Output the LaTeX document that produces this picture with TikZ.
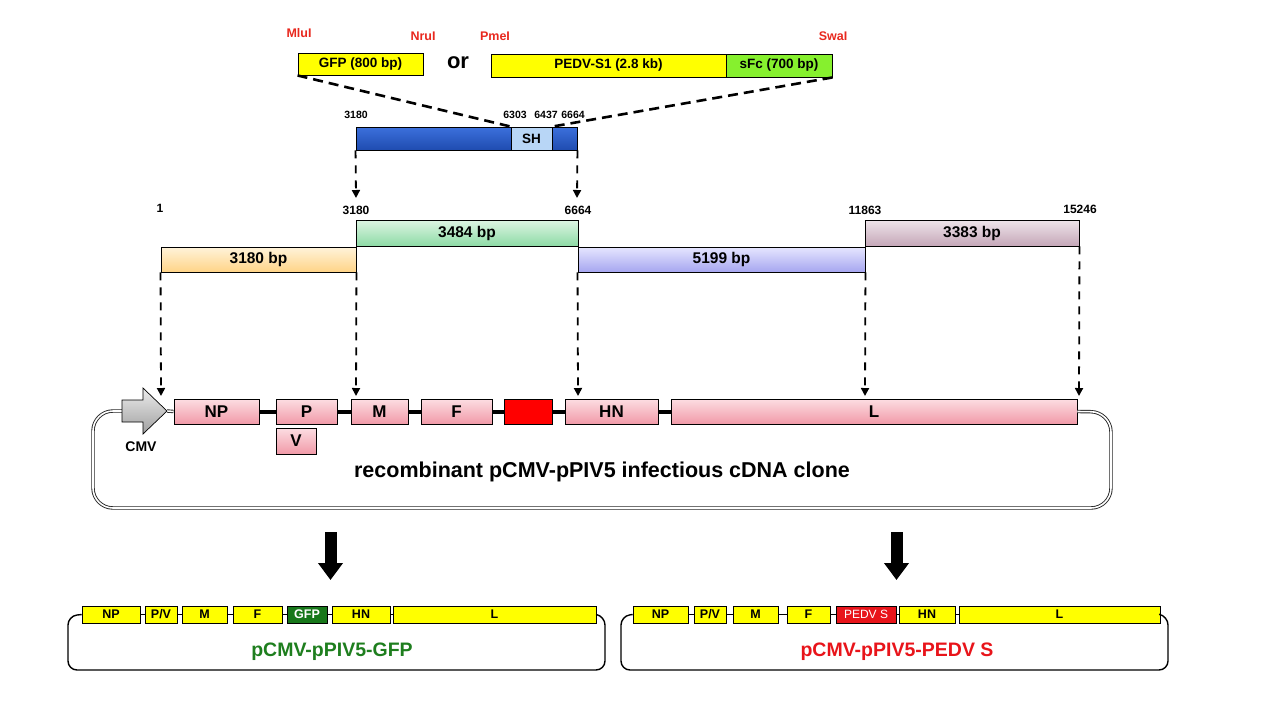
\documentclass[tikz,border=0pt]{standalone}
\usepackage{fontspec}
\setmainfont{Liberation Sans}
\usetikzlibrary{arrows.meta}
\definecolor{gtop}{HTML}{FCDDE2}
\definecolor{gbot}{HTML}{F19AA8}
\definecolor{ortop}{HTML}{FFF3DA}
\definecolor{orbot}{HTML}{FFD487}
\definecolor{grtop}{HTML}{DDF5E3}
\definecolor{grbot}{HTML}{8EDBA6}
\definecolor{latop}{HTML}{E6E6FF}
\definecolor{labot}{HTML}{A6A6F0}
\definecolor{matop}{HTML}{EEE4EA}
\definecolor{mabot}{HTML}{C5A7B8}
\definecolor{bltop}{HTML}{3C70DC}
\definecolor{blbot}{HTML}{1F4CB0}
\definecolor{shcol}{HTML}{B8D6F6}
\definecolor{yel}{HTML}{FFFF00}
\definecolor{lime}{HTML}{86F02E}
\definecolor{dgreen}{HTML}{17771A}
\definecolor{tgreen}{HTML}{1E7E1E}
\definecolor{enzred}{HTML}{E8281E}
\definecolor{pred}{HTML}{E8141A}
\newcommand\mybox[7]{%
  \node[#1, minimum width={(#5-#3)*1pt}, minimum height={(#6-#4)*1pt}] (#2) at ({(#3+#5)/2},{(#4+#6)/2}) {#7};}
\begin{document}
\begin{tikzpicture}[x=1pt,y=-1pt,
  bx/.style={draw=black, line width=0.9pt, inner sep=0pt, anchor=center},
  topbox/.style={bx, fill=yel, font=\fontsize{13.5}{13.5}\selectfont\bfseries},
  midbox/.style={bx, font=\fontsize{15.5}{15.5}\selectfont\bfseries},
  gene/.style={bx, top color=gtop, bottom color=gbot, font=\fontsize{17}{17}\selectfont\bfseries},
  sgene/.style={bx, line width=0.6pt, fill=yel, font=\fontsize{12.5}{12.5}\selectfont\bfseries},
  enz/.style={text=enzred, font=\fontsize{12.5}{12.5}\selectfont\bfseries, inner sep=0pt},
  poslabel/.style={font=\fontsize{10.5}{10.5}\selectfont\bfseries, inner sep=0pt},
  mposlabel/.style={font=\fontsize{12}{12}\selectfont\bfseries, inner sep=0pt},
  bigdash/.style={line width=2.6pt, dash pattern=on 10pt off 6pt},
  ddarrow/.style={line width=1.8pt, dash pattern=on 8pt off 7pt, -{Triangle[width=8pt,length=8pt]}},
  bigarrow/.style={line width=12pt, -{Triangle[width=24pt,length=17pt]}},
  dbl/.style={draw=black!85, double=white, double distance=1.6pt, line width=0.9pt},
  link/.style={line width=1.4pt},
  backbone/.style={line width=4pt}
]
\useasboundingbox (0,0) rectangle (1271,720);

% ---------- top inserts ----------
\node[enz] (mlu) at (299,33) {MluI};
\node[enz] (nru) at (423,36) {NruI};
\node[enz] (pme) at (495,36) {PmeI};
\node[enz] (swa) at (833,36) {SwaI};
\mybox{topbox}{gfp}{298}{53}{423}{75}{GFP (800 bp)}
\node[font=\fontsize{22}{22}\selectfont\bfseries] (or) at (458,63) {or};
\mybox{topbox}{pedv}{491}{54}{726}{77}{PEDV-S1 (2.8 kb)}
\mybox{bx, fill=lime, font=\fontsize{13.5}{13.5}\selectfont\bfseries}{sfc}{726}{54}{832}{77}{sFc (700 bp)}

% ---------- blue fragment ----------
\mybox{bx, top color=bltop, bottom color=blbot}{blue}{356}{127}{577}{150}{}
\mybox{bx, fill=shcol, font=\fontsize{13.5}{13.5}\selectfont\bfseries}{sh}{511}{127}{552}{150}{SH}
\node[poslabel] (p3180a) at (356,115) {3180};
\node[poslabel] (p6303) at (515,115) {6303};
\node[poslabel] (p6437) at (546,115) {6437};
\node[poslabel] (p6664a) at (573,115) {6664};
\draw[bigdash] (gfp.south west) -- (sh.north west);
\draw[bigdash] (sfc.south east) -- (sh.north east);

% ---------- middle fragments ----------
\node[mposlabel] (p1) at (160,208) {1};
\node[mposlabel] (p3180) at (356,210) {3180};
\node[mposlabel] (p6664) at (578,210) {6664};
\node[mposlabel] (p11863) at (865,210) {11863};
\node[mposlabel] (p15246) at (1080,209) {15246};
\draw[ddarrow] (blue.south west) -- (356,198);
\draw[ddarrow] (blue.south east) -- (577,198);
\mybox{midbox, top color=ortop, bottom color=orbot}{f1}{161}{247}{356}{272}{3180 bp}
\mybox{midbox, top color=grtop, bottom color=grbot}{f2}{356}{220}{578}{246}{3484 bp}
\mybox{midbox, top color=latop, bottom color=labot}{f3}{578}{247}{865}{272}{5199 bp}
\mybox{midbox, top color=matop, bottom color=mabot}{f4}{865}{220}{1079}{246}{3383 bp}

% ---------- main plasmid ----------
\coordinate (t1) at (161,396);
\coordinate (t2) at (356,396);
\coordinate (t3) at (578,396);
\coordinate (t4) at (865,396);
\coordinate (t5) at (1079,396);
\draw[ddarrow] (f1.south west) -- (t1);
\draw[ddarrow] (f1.south east) -- (t2);
\draw[ddarrow] (f3.south west) -- (t3);
\draw[ddarrow] (f3.south east) -- (t4);
\draw[ddarrow] (f4.south east) -- (t5);

\coordinate (cmvback) at (122,411);
\coordinate (cmvtip) at (167,411);
\coordinate (c1) at (93,411);
\coordinate (c2) at (93,508);
\coordinate (c3) at (1111,508);
\coordinate (c4) at (1111,412);

\mybox{gene}{NP}{174}{399}{259}{424}{NP}
\mybox{gene}{P}{276}{399}{337}{424}{P}
\mybox{gene}{M}{351}{399}{408}{424}{M}
\mybox{gene}{F}{421}{399}{492}{424}{F}
\mybox{bx, fill=red}{ins}{504}{399}{552}{424}{}
\mybox{gene}{HN}{565}{399}{658}{424}{HN}
\mybox{gene}{L}{671}{399}{1077}{424}{L}
\mybox{gene}{V}{276}{428}{316}{454}{V}

\draw[backbone] (NP.east) -- (P.west);
\draw[backbone] (P.east) -- (M.west);
\draw[backbone] (M.east) -- (F.west);
\draw[backbone] (F.east) -- (ins.west);
\draw[backbone] (ins.east) -- (HN.west);
\draw[backbone] (HN.east) -- (L.west);

\draw[dbl] (cmvtip) -- (NP.west);
\draw[dbl, rounded corners=20pt] (cmvback) -- (c1) -- (c2) -- (c3) -- (c4) -- (L.east);
\draw[draw=black, line width=0.7pt, top color=gray!15, bottom color=gray!75]
  (122,400) -- (143,400) -- (143,388) -- (cmvtip) -- (143,434) -- (143,422) -- (122,422) -- cycle;
\node[font=\fontsize{14}{14}\selectfont\bfseries] (cmv) at (141,447) {CMV};
\node[font=\fontsize{21.5}{21.5}\selectfont\bfseries] (title) at (602,472) {recombinant pCMV-pPIV5 infectious cDNA clone};

% ---------- big arrows ----------
\coordinate (a1s) at (330.5,532);
\coordinate (a1e) at (330.5,580);
\coordinate (a2s) at (896.5,532);
\coordinate (a2e) at (896.5,580);
\draw[bigarrow] (a1s) -- (a1e);
\draw[bigarrow] (a2s) -- (a2e);

% ---------- bottom left: GFP ----------
\mybox{sgene}{gNP}{82}{606}{140}{623}{NP}
\mybox{sgene}{gPV}{145}{606}{177}{623}{P/V}
\mybox{sgene}{gM}{182}{606}{227}{623}{M}
\mybox{sgene}{gF}{233}{606}{282}{623}{F}
\mybox{sgene, fill=dgreen, text=white}{gGFP}{287}{606}{327}{623}{GFP}
\mybox{sgene}{gHN}{332}{606}{390}{623}{HN}
\mybox{sgene}{gL}{393}{606}{596}{623}{L}
\draw[link] (gNP.east) -- (gPV.west);
\draw[link] (gPV.east) -- (gM.west);
\draw[link] (gM.east) -- (gF.west);
\draw[link] (gF.east) -- (gGFP.west);
\draw[link] (gGFP.east) -- (gHN.west);
\draw[link] (gHN.east) -- (gL.west);
\coordinate (gl1) at (68,616);
\coordinate (gl2) at (68,670);
\coordinate (gl3) at (605,670);
\coordinate (gl4) at (605,616);
\draw[link, rounded corners=9pt] (gNP.west) -- (gl1) -- (gl2) -- (gl3) -- (gl4) -- (gL.east);
\node[text=tgreen, font=\fontsize{19.5}{19.5}\selectfont\bfseries] (gtitle) at (332,652) {pCMV-pPIV5-GFP};

% ---------- bottom right: PEDV S ----------
\mybox{sgene}{pNP}{633}{606}{688}{623}{NP}
\mybox{sgene}{pPV}{694}{606}{726}{623}{P/V}
\mybox{sgene}{pM}{733}{606}{778}{623}{M}
\mybox{sgene}{pF}{787}{606}{830}{623}{F}
\mybox{sgene, fill=pred, text=white, font=\fontsize{12}{12}\selectfont}{pS}{836}{606}{896}{623}{PEDV S}
\mybox{sgene}{pHN}{899}{606}{955}{623}{HN}
\mybox{sgene}{pL}{959}{606}{1160}{623}{L}
\draw[link] (pNP.east) -- (pPV.west);
\draw[link] (pPV.east) -- (pM.west);
\draw[link] (pM.east) -- (pF.west);
\draw[link] (pF.east) -- (pS.west);
\draw[link] (pS.east) -- (pHN.west);
\draw[link] (pHN.east) -- (pL.west);
\coordinate (pl1) at (621,616);
\coordinate (pl2) at (621,670);
\coordinate (pl3) at (1168,670);
\coordinate (pl4) at (1168,616);
\draw[link, rounded corners=9pt] (pNP.west) -- (pl1) -- (pl2) -- (pl3) -- (pl4) -- (pL.east);
\node[text=pred, font=\fontsize{19.5}{19.5}\selectfont\bfseries] (ptitle) at (897,652) {pCMV-pPIV5-PEDV S};
\end{tikzpicture}
\end{document}
